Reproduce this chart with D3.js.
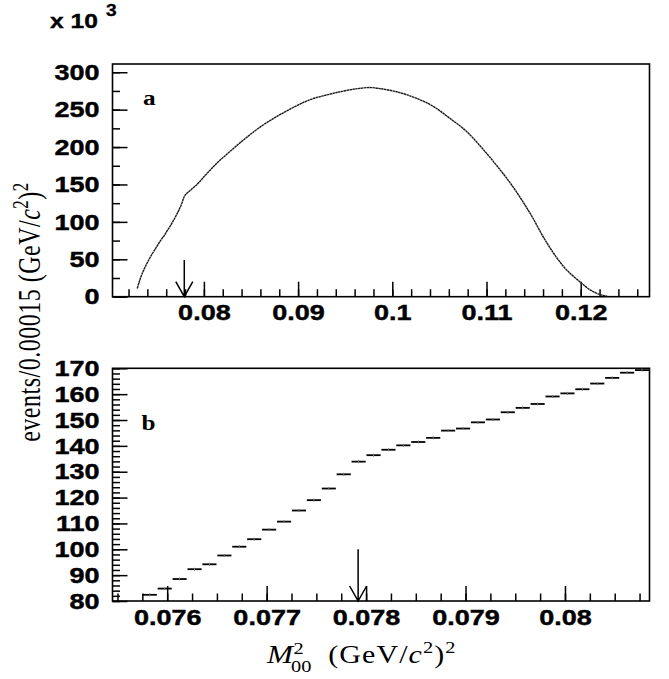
<!DOCTYPE html>
<html>
<head>
<meta charset="utf-8">
<script src="https://cdnjs.cloudflare.com/ajax/libs/d3/7.8.5/d3.min.js"></script>
<style>
    body { margin: 0; background: #fff; }
    svg { display: block; }
    .tick text { font-family: "Liberation Sans", Arial, sans-serif; font-weight: bold; font-size: 22.5px; fill: #000; stroke: #000; stroke-width: 0.45; }
    .tick line { stroke: #000; stroke-width: 1.5; }
</style>
</head>
<body>
<svg id="canvas" width="669" height="679"></svg>
<script>
// panel a : whole M00^2 spectrum, events in units of 10^3
let aMass = [0.07293, 0.0733, 0.0737, 0.0741, 0.0745, 0.0750, 0.0754, 0.07582, 0.07612, 0.07642,
             0.07673, 0.07702, 0.07732, 0.07762, 0.07792, 0.07822, 0.0786, 0.0790, 0.0795, 0.0800,
             0.0805, 0.0815, 0.0824, 0.0842, 0.0860, 0.0877, 0.0895, 0.0912, 0.0930, 0.0945,
             0.0960, 0.0976, 0.0990, 0.1008, 0.1026, 0.1044, 0.1061, 0.1079, 0.1095, 0.1111,
             0.1128, 0.1146, 0.1164, 0.1182, 0.1199, 0.1210, 0.1217, 0.1223, 0.1228]
let aEvents = [11, 26, 38, 48, 57, 67, 75, 82.4, 88.5, 94.2,
               101, 107.6, 115, 123.5, 133.9, 138.5, 142.5, 147, 153, 160.3,
               167, 180, 190, 209.5, 227, 240.5, 253, 263, 269.5, 274,
               277.5, 279.5, 277.5, 272.7, 265, 254, 238.5, 220.6, 199, 175,
               147, 112, 72, 40, 20, 9, 4.5, 2, 0.8]

// panel b : zoom around the threshold, one value per 0.00015 bin (10^3 events)
let bFirstEdge = 0.07575
let bBinWidth = 0.00015
let bEvents = [82.4, 84.8, 88.5, 92.3, 94.2, 97.6, 101.0, 103.9, 107.6, 110.7,
               115.0, 119.0, 123.5, 129.0, 133.9, 136.4, 138.5, 140.2, 141.5, 143.1,
               145.9, 146.7, 149.1, 150.2, 153.0, 154.7, 156.2, 159.1, 160.3, 161.9,
               164.1, 166.3, 168.3, 169.3]

let threshold = 0.07792

let aXTicks = [0.08, 0.09, 0.1, 0.11, 0.12]
let aYTicks = [0, 50, 100, 150, 200, 250, 300]
let bXTicks = [0.076, 0.077, 0.078, 0.079, 0.08]
let bYTicks = [80, 90, 100, 110, 120, 130, 140, 150, 160, 170]

let svg = d3.select('#canvas')
let stretch = 1.2

let xA = d3.scaleLinear().domain([0.0703, 0.1273]).range([112.5, 649.5])
let yA = d3.scaleLinear().domain([0, 311]).range([296.7, 64])
let xB = d3.scaleLinear().domain([0.07545, 0.08085]).range([112.5, 649.5])
let yB = d3.scaleLinear().domain([80, 170]).range([601, 368.3])

let drawAxes = (x, y, xTicks, xMinor, yTicks, yMinor, xPad) => {
    let g = svg.append('g')
    let x0 = x.range()[0], x1 = x.range()[1]
    let y0 = y.range()[0], y1 = y.range()[1]

    // minor ticks first
    g.append('g')
        .attr('transform', 'translate(0,' + y0 + ')')
        .call(d3.axisBottom(x).tickValues(xMinor).tickSize(-7.5).tickFormat(''))
    g.append('g')
        .attr('transform', 'translate(' + x0 + ',0)')
        .call(d3.axisLeft(y).tickValues(yMinor).tickSize(-7.5).tickFormat(''))

    let bottom = g.append('g')
        .attr('transform', 'translate(0,' + y0 + ')')
        .call(d3.axisBottom(x).tickValues(xTicks).tickSize(-15).tickPadding(xPad).tickFormat((d) => String(d)))
    bottom.selectAll('text').attr('transform', 'scale(' + stretch + ',1)')

    let left = g.append('g')
        .attr('transform', 'translate(' + x0 + ',0)')
        .call(d3.axisLeft(y).tickValues(yTicks).tickSize(-15).tickPadding(13).tickFormat((d) => String(d)))
    left.selectAll('text')
        .attr('x', -13 / stretch)
        .attr('transform', 'scale(' + stretch + ',1)')

    g.selectAll('.domain').remove()

    g.append('rect')
        .attr('x', x0)
        .attr('y', y1)
        .attr('width', x1 - x0)
        .attr('height', y0 - y1)
        .attr('fill', 'none')
        .attr('stroke', '#000')
        .attr('stroke-width', 1.6)
}

let drawArrow = (x, y, top) => {
    let px = x(threshold)
    let pBottom = y.range()[0]
    svg.append('path')
        .attr('d', 'M' + px + ',' + y(top) + 'V' + pBottom +
                   'M' + (px - 8.5) + ',' + (pBottom - 15) + 'L' + px + ',' + pBottom + 'L' + (px + 8.5) + ',' + (pBottom - 15))
        .attr('fill', 'none')
        .attr('stroke', '#000')
        .attr('stroke-width', 1.5)
}

// ---------- panel a ----------
drawAxes(xA, yA, aXTicks, d3.range(0.072, 0.1265, 0.002), aYTicks, d3.range(25, 311, 25), 7)

let line = d3.line()
    .x((d, i) => xA(aMass[i]))
    .y((d) => yA(d))
    .curve(d3.curveMonotoneX)

svg.append('path')
    .datum(aEvents)
    .attr('d', line)
    .attr('fill', 'none')
    .attr('stroke', '#1a1a1a')
    .attr('stroke-width', 1.4)
    .attr('stroke-dasharray', '2.5,0.4')

drawArrow(xA, yA, 49)

// ---------- panel b ----------
drawAxes(xB, yB, bXTicks, d3.range(0.0755, 0.0809, 0.00025), bYTicks, d3.range(80, 171, 2), 8)

let bins = svg.append('g')
bins.selectAll('line.bin')
    .data(bEvents)
    .enter()
    .append('line')
    .attr('class', 'bin')
    .attr('x1', (d, i) => xB(bFirstEdge + i * bBinWidth) + 0.4)
    .attr('x2', (d, i) => xB(bFirstEdge + (i + 1) * bBinWidth) - 0.4)
    .attr('y1', (d) => yB(d))
    .attr('y2', (d) => yB(d))
    .attr('stroke', '#000')
    .attr('stroke-width', 1.8)
bins.selectAll('line.err')
    .data(bEvents)
    .enter()
    .append('line')
    .attr('class', 'err')
    .attr('x1', (d, i) => xB(bFirstEdge + (i + 0.5) * bBinWidth))
    .attr('x2', (d, i) => xB(bFirstEdge + (i + 0.5) * bBinWidth))
    .attr('y1', (d) => yB(d) - 1.5)
    .attr('y2', (d) => yB(d) + 1.5)
    .attr('stroke', '#777')
    .attr('stroke-width', 1)

drawArrow(xB, yB, 100)

// ---------- texts ----------
let sans = '"Liberation Sans", Arial, sans-serif'
let serif = '"Liberation Serif", "Times New Roman", serif'

svg.append('text')
    .attr('transform', 'translate(50,28) scale(' + stretch + ',1)')
    .attr('font-family', sans).attr('font-weight', 'bold').attr('font-size', 20.5)
    .attr('stroke', '#000').attr('stroke-width', 0.4)
    .text('x 10')
svg.append('text')
    .attr('transform', 'translate(106,16) scale(' + stretch + ',1)')
    .attr('font-family', sans).attr('font-weight', 'bold').attr('font-size', 16)
    .attr('stroke', '#000').attr('stroke-width', 0.3)
    .text('3')

svg.append('text')
    .attr('transform', 'translate(143,105) scale(' + stretch + ',1)')
    .attr('font-family', serif).attr('font-weight', 'bold').attr('font-size', 21)
    .text('a')
svg.append('text')
    .attr('transform', 'translate(141.5,430) scale(' + stretch + ',1)')
    .attr('font-family', serif).attr('font-weight', 'bold').attr('font-size', 21)
    .text('b')

// y title
let yTitle = svg.append('text')
    .attr('transform', 'translate(40,312) scale(1.3,1) rotate(-90)')
    .attr('font-family', serif).attr('font-size', 24)
    .attr('text-anchor', 'middle')
    .attr('letter-spacing', 0.5)
yTitle.append('tspan').text('events/0.00015 (GeV/')
yTitle.append('tspan').attr('font-style', 'italic').text('c')
yTitle.append('tspan').attr('font-size', 17).attr('dy', -9).text('2')
yTitle.append('tspan').attr('dy', 9).text(')')
yTitle.append('tspan').attr('font-size', 17).attr('dy', -9).text('2')

// x title
let xTitle = svg.append('g')
    .attr('transform', 'translate(267,663) scale(' + stretch + ',1)')
    .attr('font-family', serif)
xTitle.append('text').attr('font-size', 26).attr('font-style', 'italic').text('M')
xTitle.append('text').attr('x', 22).attr('y', -9).attr('font-size', 17).text('2')
xTitle.append('text').attr('x', 20).attr('y', 9).attr('font-size', 17).text('00')
let xPar = xTitle.append('text').attr('x', 51).attr('font-size', 25).attr('letter-spacing', 0.9)
xPar.append('tspan').text('(GeV/')
xPar.append('tspan').attr('font-style', 'italic').text('c')
xPar.append('tspan').attr('font-size', 17).attr('dy', -10).text('2')
xPar.append('tspan').attr('dy', 10).text(')')
xPar.append('tspan').attr('font-size', 17).attr('dy', -10).text('2')
</script>
</body>
</html>
